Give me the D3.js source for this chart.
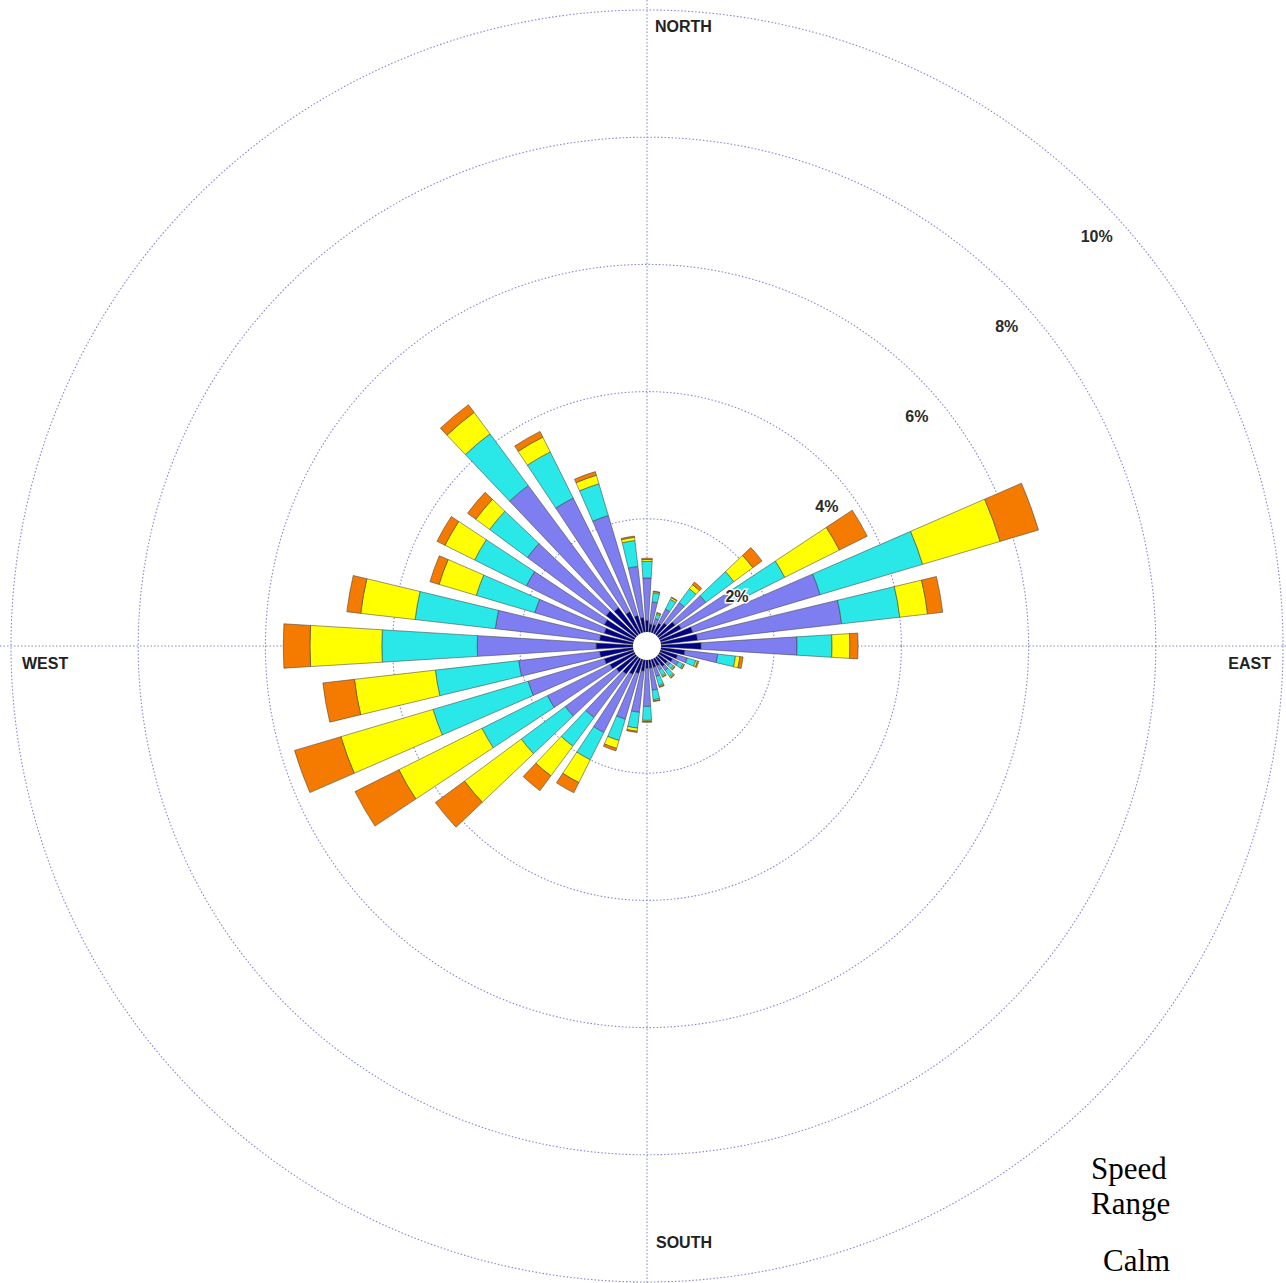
<!DOCTYPE html>
<html>
<head>
<meta charset="utf-8">
<script src="https://cdn.jsdelivr.net/npm/d3@7"></script>
<style>
  html, body { margin: 0; padding: 0; background: #fff; }
  svg { display: block; }
</style>
</head>
<body>
<div id="chart"></div>
<script>
// wind directions, degrees clockwise from north
const directions = [0, 10, 20, 30, 40, 50, 60, 70, 80, 90, 100, 110, 120, 130, 140, 150, 160, 170,
                    180, 190, 200, 210, 220, 230, 240, 250, 260, 270, 280, 290, 300, 310, 320, 330, 340, 350]

// percent of time per speed range (stacked from the centre outwards)
const range1 = [0.40, 0.35, 0.35, 0.40, 0.45, 0.55, 0.60, 0.75, 0.80, 0.85, 0.60, 0.50, 0.45, 0.40, 0.40, 0.35, 0.35, 0.35,
                0.35, 0.40, 0.45, 0.50, 0.55, 0.60, 0.65, 0.70, 0.75, 0.80, 0.75, 0.70, 0.75, 0.80, 0.75, 0.60, 0.50, 0.45]
const range2 = [0.67, 0.35, 0.10, 0.25, 0.40, 0.60, 0.90, 2.09, 2.28, 1.51, 0.52, 0.16, 0.10, 0.05, 0.08, 0.07, 0.15, 0.35,
                0.60, 0.65, 0.75, 1.02, 0.85, 1.00, 1.10, 1.25, 1.28, 1.87, 1.65, 1.14, 1.37, 1.54, 2.39, 2.00, 1.64, 0.81]
const range3 = [0.26, 0.14, 0.07, 0.17, 0.27, 0.55, 0.92, 1.68, 0.92, 0.55, 0.28, 0.14, 0.08, 0.07, 0.12, 0.10, 0.15, 0.15,
                0.22, 0.25, 0.35, 0.48, 0.56, 0.86, 1.15, 1.56, 1.32, 1.50, 1.27, 0.96, 0.91, 0.74, 1.01, 0.81, 0.52, 0.41]
const range4 = [0.03, 0.02, 0.02, 0.03, 0.08, 0.37, 0.96, 1.27, 0.44, 0.28, 0.07, 0.03, 0.02, 0.02, 0.02, 0.02, 0.02, 0.02,
                0.02, 0.05, 0.13, 0.40, 0.58, 1.11, 1.46, 1.51, 1.28, 1.13, 0.86, 0.61, 0.52, 0.27, 0.42, 0.26, 0.14, 0.05]
const range5 = [0.02, 0.01, 0.01, 0.01, 0.05, 0.18, 0.49, 0.63, 0.24, 0.13, 0.05, 0.02, 0.01, 0.01, 0.01, 0.01, 0.01, 0.01,
                0.01, 0.02, 0.04, 0.18, 0.29, 0.57, 0.77, 0.76, 0.50, 0.42, 0.22, 0.15, 0.14, 0.16, 0.15, 0.10, 0.06, 0.02]

const rangeKeys = ["r1", "r2", "r3", "r4", "r5"]
const rangeColors = ["#00008b", "#7e7ef0", "#2ae8e8", "#ffff00", "#f57a00"]

const ringValues = [2, 4, 6, 8, 10]
const ringLabels = ["2%", "4%", "6%", "8%", "10%"]
const compassLabels = ["NORTH", "EAST", "SOUTH", "WEST"]
const legendLines = ["Speed", "Range", "Calm"]

const WIDTH = 1286
const HEIGHT = 1283
const CX = 647
const CY = 646
const R_MAX = 636

const rows = directions.map((dir, i) => ({
    dir: dir, r1: range1[i], r2: range2[i], r3: range3[i], r4: range4[i], r5: range5[i]
}))

const svg = d3.select("#chart")
  .append("svg")
    .attr("width", WIDTH)
    .attr("height", HEIGHT)

const g = svg.append("g")
    .attr("transform", `translate(${CX},${CY})`)

// angle scale: each band centred on its compass direction
const step = 2 * Math.PI / directions.length
const x = d3.scaleBand()
    .domain(directions)
    .range([-step / 2, 2 * Math.PI - step / 2])
    .paddingInner(0.3)
    .paddingOuter(0.15)

const y = d3.scaleLinear()
    .domain([0, 10])
    .range([0, R_MAX])

// grid
const gridColor = "#8585d4"
g.append("line")
    .attr("x1", -CX).attr("x2", WIDTH - CX)
    .attr("y1", 0).attr("y2", 0)
    .attr("stroke", gridColor).attr("stroke-width", 1)
    .attr("stroke-dasharray", "1.5,2")
g.append("line")
    .attr("x1", 0).attr("x2", 0)
    .attr("y1", -CY).attr("y2", HEIGHT - CY)
    .attr("stroke", gridColor).attr("stroke-width", 1)
    .attr("stroke-dasharray", "1.5,2")

g.selectAll("circle.ring")
  .data(ringValues)
  .enter()
  .append("circle")
    .attr("class", "ring")
    .attr("r", d => y(d))
    .attr("fill", "none")
    .attr("stroke", gridColor)
    .attr("stroke-width", 1.1)
    .attr("stroke-dasharray", "1.5,2")

// bars
const stacked = d3.stack().keys(rangeKeys)(rows)

const arc = d3.arc()
    .innerRadius(d => y(d[0]))
    .outerRadius(d => y(d[1]))
    .startAngle(d => x(d.data.dir))
    .endAngle(d => x(d.data.dir) + x.bandwidth())

g.selectAll("g.layer")
  .data(stacked)
  .enter()
  .append("g")
    .attr("class", "layer")
    .attr("fill", (d, i) => rangeColors[i])
  .selectAll("path")
  .data(d => d)
  .enter()
  .append("path")
    .attr("d", arc)
    .attr("stroke", "#3a3a3a")
    .attr("stroke-width", 0.7)
    .attr("stroke-opacity", 0.75)

// calm circle
g.append("circle")
    .attr("r", 14)
    .attr("fill", "#fff")

// ring labels, at the 45 degree point of each ring, pushed down a little
g.selectAll("text.ringlabel")
  .data(ringValues)
  .enter()
  .append("text")
    .attr("class", "ringlabel")
    .attr("x", d => y(d) * Math.SQRT1_2)
    .attr("y", d => -y(d) * Math.SQRT1_2 + 46)
    .attr("text-anchor", "middle")
    .attr("font-family", "Liberation Sans, Arial, sans-serif")
    .attr("font-weight", "bold")
    .attr("font-size", 16)
    .attr("fill", "#2a2a2a")
    .attr("paint-order", "stroke")
    .attr("stroke", "#fff")
    .attr("stroke-width", 3)
    .text((d, i) => ringLabels[i])

// compass labels
const compassPos = [
    { x: 655, y: 32, anchor: "start" },
    { x: 1271, y: 669, anchor: "end" },
    { x: 656, y: 1248, anchor: "start" },
    { x: 22, y: 669, anchor: "start" }
]
svg.selectAll("text.compass")
  .data(compassLabels)
  .enter()
  .append("text")
    .attr("class", "compass")
    .attr("x", (d, i) => compassPos[i].x)
    .attr("y", (d, i) => compassPos[i].y)
    .attr("text-anchor", (d, i) => compassPos[i].anchor)
    .attr("font-family", "Liberation Sans, Arial, sans-serif")
    .attr("font-weight", "bold")
    .attr("font-size", 16)
    .attr("fill", "#222")
    .text(d => d)

// legend (text only)
const legendPos = [{ x: 1091, y: 1179 }, { x: 1091, y: 1214 }, { x: 1103, y: 1271 }]
svg.selectAll("text.legend")
  .data(legendLines)
  .enter()
  .append("text")
    .attr("class", "legend")
    .attr("x", (d, i) => legendPos[i].x)
    .attr("y", (d, i) => legendPos[i].y)
    .attr("font-family", "Liberation Serif, Times New Roman, serif")
    .attr("font-size", 31)
    .attr("fill", "#000")
    .text(d => d)
</script>
</body>
</html>
